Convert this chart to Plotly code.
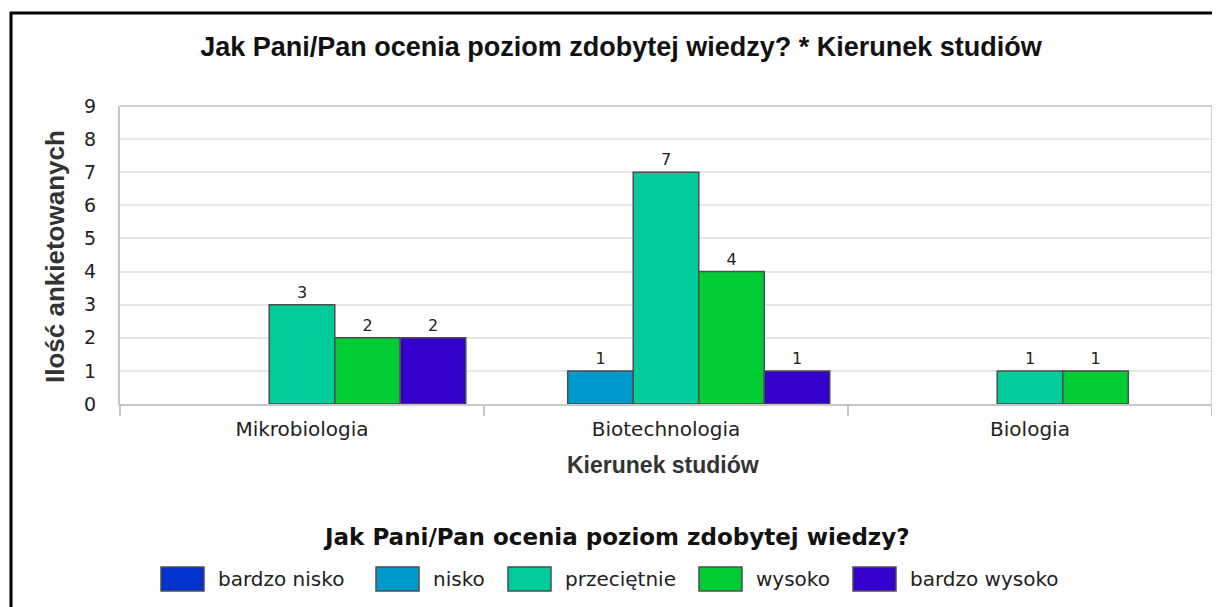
import plotly.graph_objects as go

categories = ["Mikrobiologia", "Biotechnologia", "Biologia"]
series_names = ["bardzo nisko", "nisko", "przeciętnie", "wysoko", "bardzo wysoko"]
bardzo_nisko = [0, 0, 0]
nisko = [0, 1, 0]
przecietnie = [3, 7, 1]
wysoko = [2, 4, 1]
bardzo_wysoko = [2, 1, 0]
series_values = [bardzo_nisko, nisko, przecietnie, wysoko, bardzo_wysoko]
colors = ["#0033CC", "#0099CC", "#00CC99", "#00CC33", "#3300CC"]
y_ticks = [0, 1, 2, 3, 4, 5, 6, 7, 8, 9]

title_text = "Jak Pani/Pan ocenia poziom zdobytej wiedzy? * Kierunek studiów"
y_title = "Ilość ankietowanych"
x_title = "Kierunek studiów"
legend_title = "Jak Pani/Pan ocenia poziom zdobytej wiedzy?"

OFF = 8  # page body margin
W, H = 1220 - OFF, 607 - OFF
L, R, T, B = 120, 1212, 106, 404  # screen coords of plot area

def px(x):
    return (x - L) / (R - L)

def py(y):
    return (B - y) / (B - T)

fig = go.Figure()
for name, vals, col in zip(series_names, series_values, colors):
    fig.add_trace(go.Bar(
        x=categories, y=vals, name=name,
        marker=dict(color=col, line=dict(color="#4d4d4d",
                                         width=[1.5 if v > 0 else 0 for v in vals])),
        text=[str(v) if v > 0 else "" for v in vals],
        textposition="outside", cliponaxis=False,
        textfont=dict(family="DejaVu Sans", size=16, color="#222"),
        showlegend=False,
    ))

fig.update_layout(
    width=W, height=H,
    margin=dict(l=L - OFF, r=(1220 - R), t=T - OFF, b=H - (B - OFF)),
    paper_bgcolor="white", plot_bgcolor="white",
    barmode="group", bargap=0.1, bargroupgap=0,
    title=dict(text=title_text, x=(621 - OFF) / W, xanchor="center", xref="container",
               y=1 - (47 - OFF) / H, yanchor="middle",
               font=dict(family="Liberation Sans", size=27, color="#111", weight="bold")),
    font=dict(family="DejaVu Sans", color="#222"),
)
fig.update_xaxes(
    showgrid=False, showline=True, linecolor="#c8c8c8", linewidth=2,
    ticks="outside", tickson="boundaries", ticklen=10, tickcolor="#c8c8c8", tickwidth=2,
    ticklabelstandoff=6,
    tickfont=dict(family="DejaVu Sans", size=20, color="#222"),
    mirror=False, zeroline=False,
)
fig.update_yaxes(
    range=[0, 9], tickvals=y_ticks, showgrid=True, gridcolor="#e6e6e6", gridwidth=2,
    showline=True, linecolor="#c8c8c8", linewidth=2, zeroline=False,
    ticks="", ticklabelstandoff=18,
    tickfont=dict(family="DejaVu Sans", size=19, color="#222"),
)

shapes = []
shapes.append(dict(type="line", xref="paper", yref="paper", x0=0, x1=1, y0=1, y1=1,
                   line=dict(color="#d0d0d0", width=2)))
shapes.append(dict(type="line", xref="paper", yref="paper", x0=1, x1=1, y0=0, y1=1,
                   line=dict(color="#d0d0d0", width=2)))
shapes.append(dict(type="line", xref="paper", yref="paper", x0=px(11), x1=px(11), y0=py(12), y1=py(620),
                   line=dict(color="black", width=3)))
shapes.append(dict(type="line", xref="paper", yref="paper", x0=px(10), x1=px(1230), y0=py(13), y1=py(13),
                   line=dict(color="black", width=3)))

annotations = [
    dict(text=y_title, xref="paper", yref="paper", x=px(55), y=py(257), textangle=-90,
         showarrow=False, xanchor="center", yanchor="middle",
         font=dict(family="Liberation Sans", size=26, color="#333", weight="bold")),
    dict(text=x_title, xref="paper", yref="paper", x=px(663), y=py(465),
         showarrow=False, xanchor="center", yanchor="middle",
         font=dict(family="Liberation Sans", size=23, color="#333", weight="bold")),
    dict(text=legend_title, xref="paper", yref="paper", x=px(616), y=py(537),
         showarrow=False, xanchor="center", yanchor="middle",
         font=dict(family="DejaVu Sans", size=23, color="#111", weight="bold")),
]

swatch_left = [161, 376, 508, 699, 853]
for name, col, sx in zip(series_names, colors, swatch_left):
    shapes.append(dict(type="rect", xref="paper", yref="paper",
                       x0=px(sx), x1=px(sx + 43), y0=py(591), y1=py(567),
                       fillcolor=col, line=dict(color="#4d4d4d", width=1.5)))
    annotations.append(dict(text=name, xref="paper", yref="paper", x=px(sx + 55), y=py(579),
                            showarrow=False, xanchor="left", yanchor="middle",
                            font=dict(family="DejaVu Sans", size=20, color="#222")))

fig.update_layout(shapes=shapes, annotations=annotations)
fig.write_html("out.html")
